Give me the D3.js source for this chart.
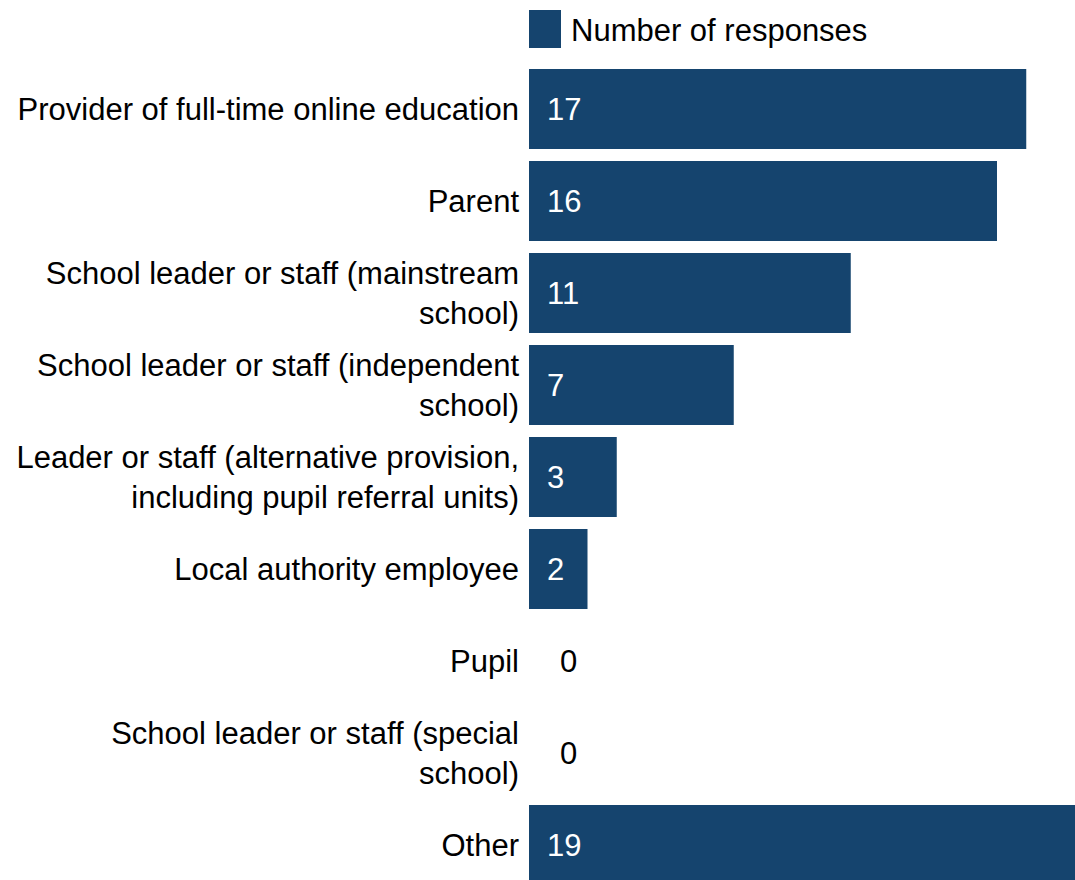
<!DOCTYPE html>
<html>
<head>
<meta charset="utf-8">
<script src="https://cdn.jsdelivr.net/npm/d3@7/dist/d3.min.js"></script>
<style>
  html, body { margin: 0; padding: 0; background: #ffffff; }
  svg { display: block; }
  text { font-family: "Liberation Sans", Arial, sans-serif; }
</style>
</head>
<body>
<svg id="chart" width="1075" height="880"></svg>
<script>
// Respondent types and how many responses each gave
const categories = [
  "Provider of full-time online education",
  "Parent",
  "School leader or staff (mainstream school)",
  "School leader or staff (independent school)",
  "Leader or staff (alternative provision, including pupil referral units)",
  "Local authority employee",
  "Pupil",
  "School leader or staff (special school)",
  "Other"
];
const responses = [17, 16, 11, 7, 3, 2, 0, 0, 19];
const seriesName = "Number of responses";

const barColor = "#15446e";
const fontSize = 31;
const labelMaxWidth = 512;

const svg = d3.select("#chart");

const x = d3.scaleLinear().domain([0, 20]).range([529, 1114]);
const y = d3.scaleBand()
  .domain(categories)
  .range([69, 885])
  .paddingInner(12 / 92)
  .paddingOuter(0);

// Bars
svg.append("g")
  .selectAll("rect")
  .data(categories)
  .join("rect")
  .attr("x", x(0))
  .attr("y", d => y(d))
  .attr("width", (d, i) => x(responses[i]) - x(0))
  .attr("height", y.bandwidth())
  .attr("fill", barColor);

// Category labels, wrapped onto two lines where too long
const labelG = svg.append("g")
  .attr("text-anchor", "end")
  .attr("font-size", fontSize)
  .attr("fill", "#000");

categories.forEach(cat => {
  const cy = y(cat) + y.bandwidth() / 2;
  const t = labelG.append("text").attr("x", 519);
  const words = cat.split(" ");
  const lines = [];
  let line = [];
  const probe = t.append("tspan");
  words.forEach(w => {
    line.push(w);
    probe.text(line.join(" "));
    if (probe.node().getComputedTextLength() > labelMaxWidth && line.length > 1) {
      line.pop();
      lines.push(line.join(" "));
      line = [w];
    }
  });
  lines.push(line.join(" "));
  probe.remove();
  const lh = 40;
  lines.forEach((ln, k) => {
    const offset = (k - (lines.length - 1) / 2) * lh;
    t.append("tspan")
      .attr("x", 519)
      .attr("y", cy + offset)
      .attr("dy", "0.35em")
      .text(ln);
  });
});

// Value labels: white inside bars, dark beside empty ones
svg.append("g")
  .attr("font-size", fontSize)
  .selectAll("text")
  .data(categories)
  .join("text")
  .attr("x", (d, i) => responses[i] > 0 ? x(0) + 18 : x(0) + 31)
  .attr("y", d => y(d) + y.bandwidth() / 2)
  .attr("dy", "0.35em")
  .attr("fill", (d, i) => responses[i] > 0 ? "#ffffff" : "#000000")
  .text((d, i) => responses[i]);

// Legend
const legend = svg.append("g");
legend.append("rect")
  .attr("x", 529).attr("y", 10)
  .attr("width", 32).attr("height", 38)
  .attr("fill", barColor);
legend.append("text")
  .attr("x", 571).attr("y", 30)
  .attr("dy", "0.35em")
  .attr("font-size", fontSize)
  .attr("fill", "#000")
  .text(seriesName);
</script>
</body>
</html>
